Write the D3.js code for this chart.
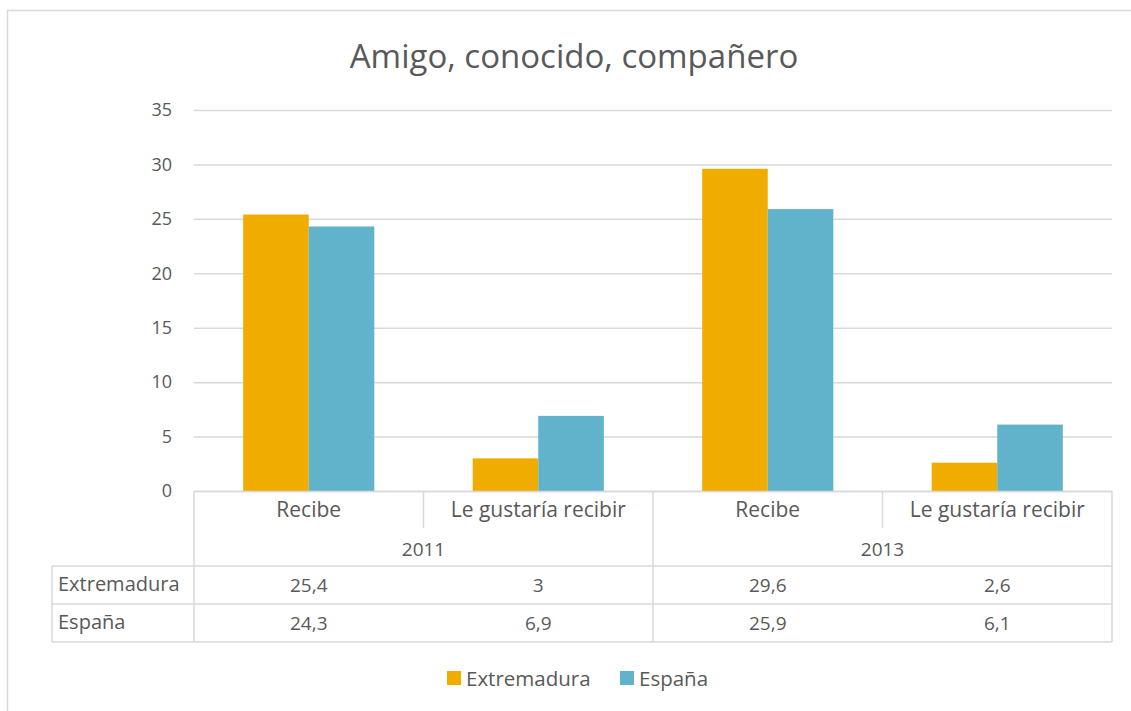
<!DOCTYPE html>
<html>
<head>
<meta charset="utf-8">
<script src="https://cdn.jsdelivr.net/npm/d3@7"></script>
<style>
  body { margin: 0; background: #fff; }
  svg { display: block; }
  text { font-family: "Open Sans", Lato, sans-serif; fill: #595959; }
</style>
</head>
<body>
<svg id="chart" width="1131" height="711"></svg>
<script>
// Chart data
const title = "Amigo, conocido, compañero";
const years = ["2011", "2013"];
const subcats = ["Recibe", "Le gustaría recibir"];
const seriesNames = ["Extremadura", "España"];
const extremadura = [25.4, 3, 29.6, 2.6];
const espana = [24.3, 6.9, 25.9, 6.1];
const yTicks = [0, 5, 10, 15, 20, 25, 30, 35];
const colors = ["#F0AD00", "#60B3CB"];

const seriesValues = [extremadura, espana];
const categories = years.flatMap(y => subcats.map(s => ({ year: y, sub: s, key: y + "|" + s })));

const svg = d3.select("#chart");
const W = 1131, H = 711;
const grid = "#d9d9d9";

// Outer frame (extends past the right and bottom edges)
svg.append("rect").attr("x", 7.5).attr("y", 10.5).attr("width", W + 20).attr("height", H + 20)
  .attr("fill", "none").attr("stroke", grid).attr("stroke-width", 1.5);

// Title
svg.append("text").attr("x", 574).attr("y", 68).attr("text-anchor", "middle")
  .style("font-size", "33px").text(title);

const plot = { left: 194, right: 1112, top: 110, bottom: 491 };

const x = d3.scaleBand().domain(categories.map(c => c.key))
  .range([plot.left, plot.right]).paddingInner(0).paddingOuter(0);
const y = d3.scaleLinear().domain([0, 35]).range([plot.bottom, plot.top]);
const xs = d3.scaleBand().domain(seriesNames).range([0, x.bandwidth()]).paddingInner(0).paddingOuter(0.75);

// Gridlines and y-axis labels
const yAxis = d3.axisLeft(y).tickValues(yTicks).tickSize(-(plot.right - plot.left)).tickFormat(d3.format("d"));
const gy = svg.append("g").attr("transform", `translate(${plot.left},0)`).call(yAxis);
gy.select(".domain").remove();
gy.selectAll(".tick line").attr("stroke", grid).attr("stroke-width", 1.5);
gy.selectAll(".tick text").attr("x", -22).attr("dy", "0.32em")
  .style("font-size", "18px").attr("fill", "#595959");

// Bars
categories.forEach((c, i) => {
  seriesNames.forEach((s, j) => {
    const v = seriesValues[j][i];
    svg.append("rect")
      .attr("x", x(c.key) + xs(s))
      .attr("y", y(v))
      .attr("width", xs.bandwidth())
      .attr("height", y(0) - y(v))
      .attr("fill", colors[j]);
  });
});

// Data table under the axis
const tbl = svg.append("g");
const line = (x1, y1, x2, y2) => tbl.append("line").attr("x1", x1).attr("y1", y1).attr("x2", x2).attr("y2", y2)
  .attr("stroke", grid).attr("stroke-width", 1.5);
const rowTop = 566, rowH = 38, labelLeft = 52;

// Axis baseline
line(plot.left, plot.bottom + 0.5, plot.right, plot.bottom + 0.5);
// Vertical lines: full height at group boundaries, short between subcategories
categories.forEach((c, i) => {
  const xl = x(c.key);
  const full = (i % subcats.length === 0);
  line(xl, plot.bottom, xl, full ? rowTop + rowH * 2 : 528);
});
line(plot.right, plot.bottom, plot.right, rowTop + rowH * 2);
// Row lines
line(labelLeft, rowTop, plot.right, rowTop);
line(labelLeft, rowTop + rowH, plot.right, rowTop + rowH);
line(labelLeft, rowTop + rowH * 2, plot.right, rowTop + rowH * 2);
line(labelLeft, rowTop, labelLeft, rowTop + rowH * 2);

// Subcategory labels
categories.forEach(c => {
  tbl.append("text").attr("x", x(c.key) + x.bandwidth() / 2).attr("y", 517)
    .attr("text-anchor", "middle").style("font-size", "21px").text(c.sub);
});
// Year labels
years.forEach((yr, k) => {
  const x0 = x(categories[k * subcats.length].key);
  const w = x.bandwidth() * subcats.length;
  tbl.append("text").attr("x", x0 + w / 2).attr("y", 556)
    .attr("text-anchor", "middle").style("font-size", "19px").text(yr);
});
// Values
const fmt = v => String(v).replace(".", ",");
seriesNames.forEach((s, j) => {
  const yy = rowTop + rowH * j + 25;
  tbl.append("text").attr("x", 58).attr("y", yy).style("font-size", "20px").text(s);
  categories.forEach((c, i) => {
    tbl.append("text").attr("x", x(c.key) + x.bandwidth() / 2).attr("y", yy + 1)
      .attr("text-anchor", "middle").style("font-size", "19px").text(fmt(seriesValues[j][i]));
  });
});

// Legend
const legend = svg.append("g");
const legendPos = [447, 620];
seriesNames.forEach((s, j) => {
  legend.append("rect").attr("x", legendPos[j]).attr("y", 671).attr("width", 14).attr("height", 14).attr("fill", colors[j]);
  legend.append("text").attr("x", legendPos[j] + 19).attr("y", 686).style("font-size", "20.5px").text(s);
});
</script>
</body>
</html>
